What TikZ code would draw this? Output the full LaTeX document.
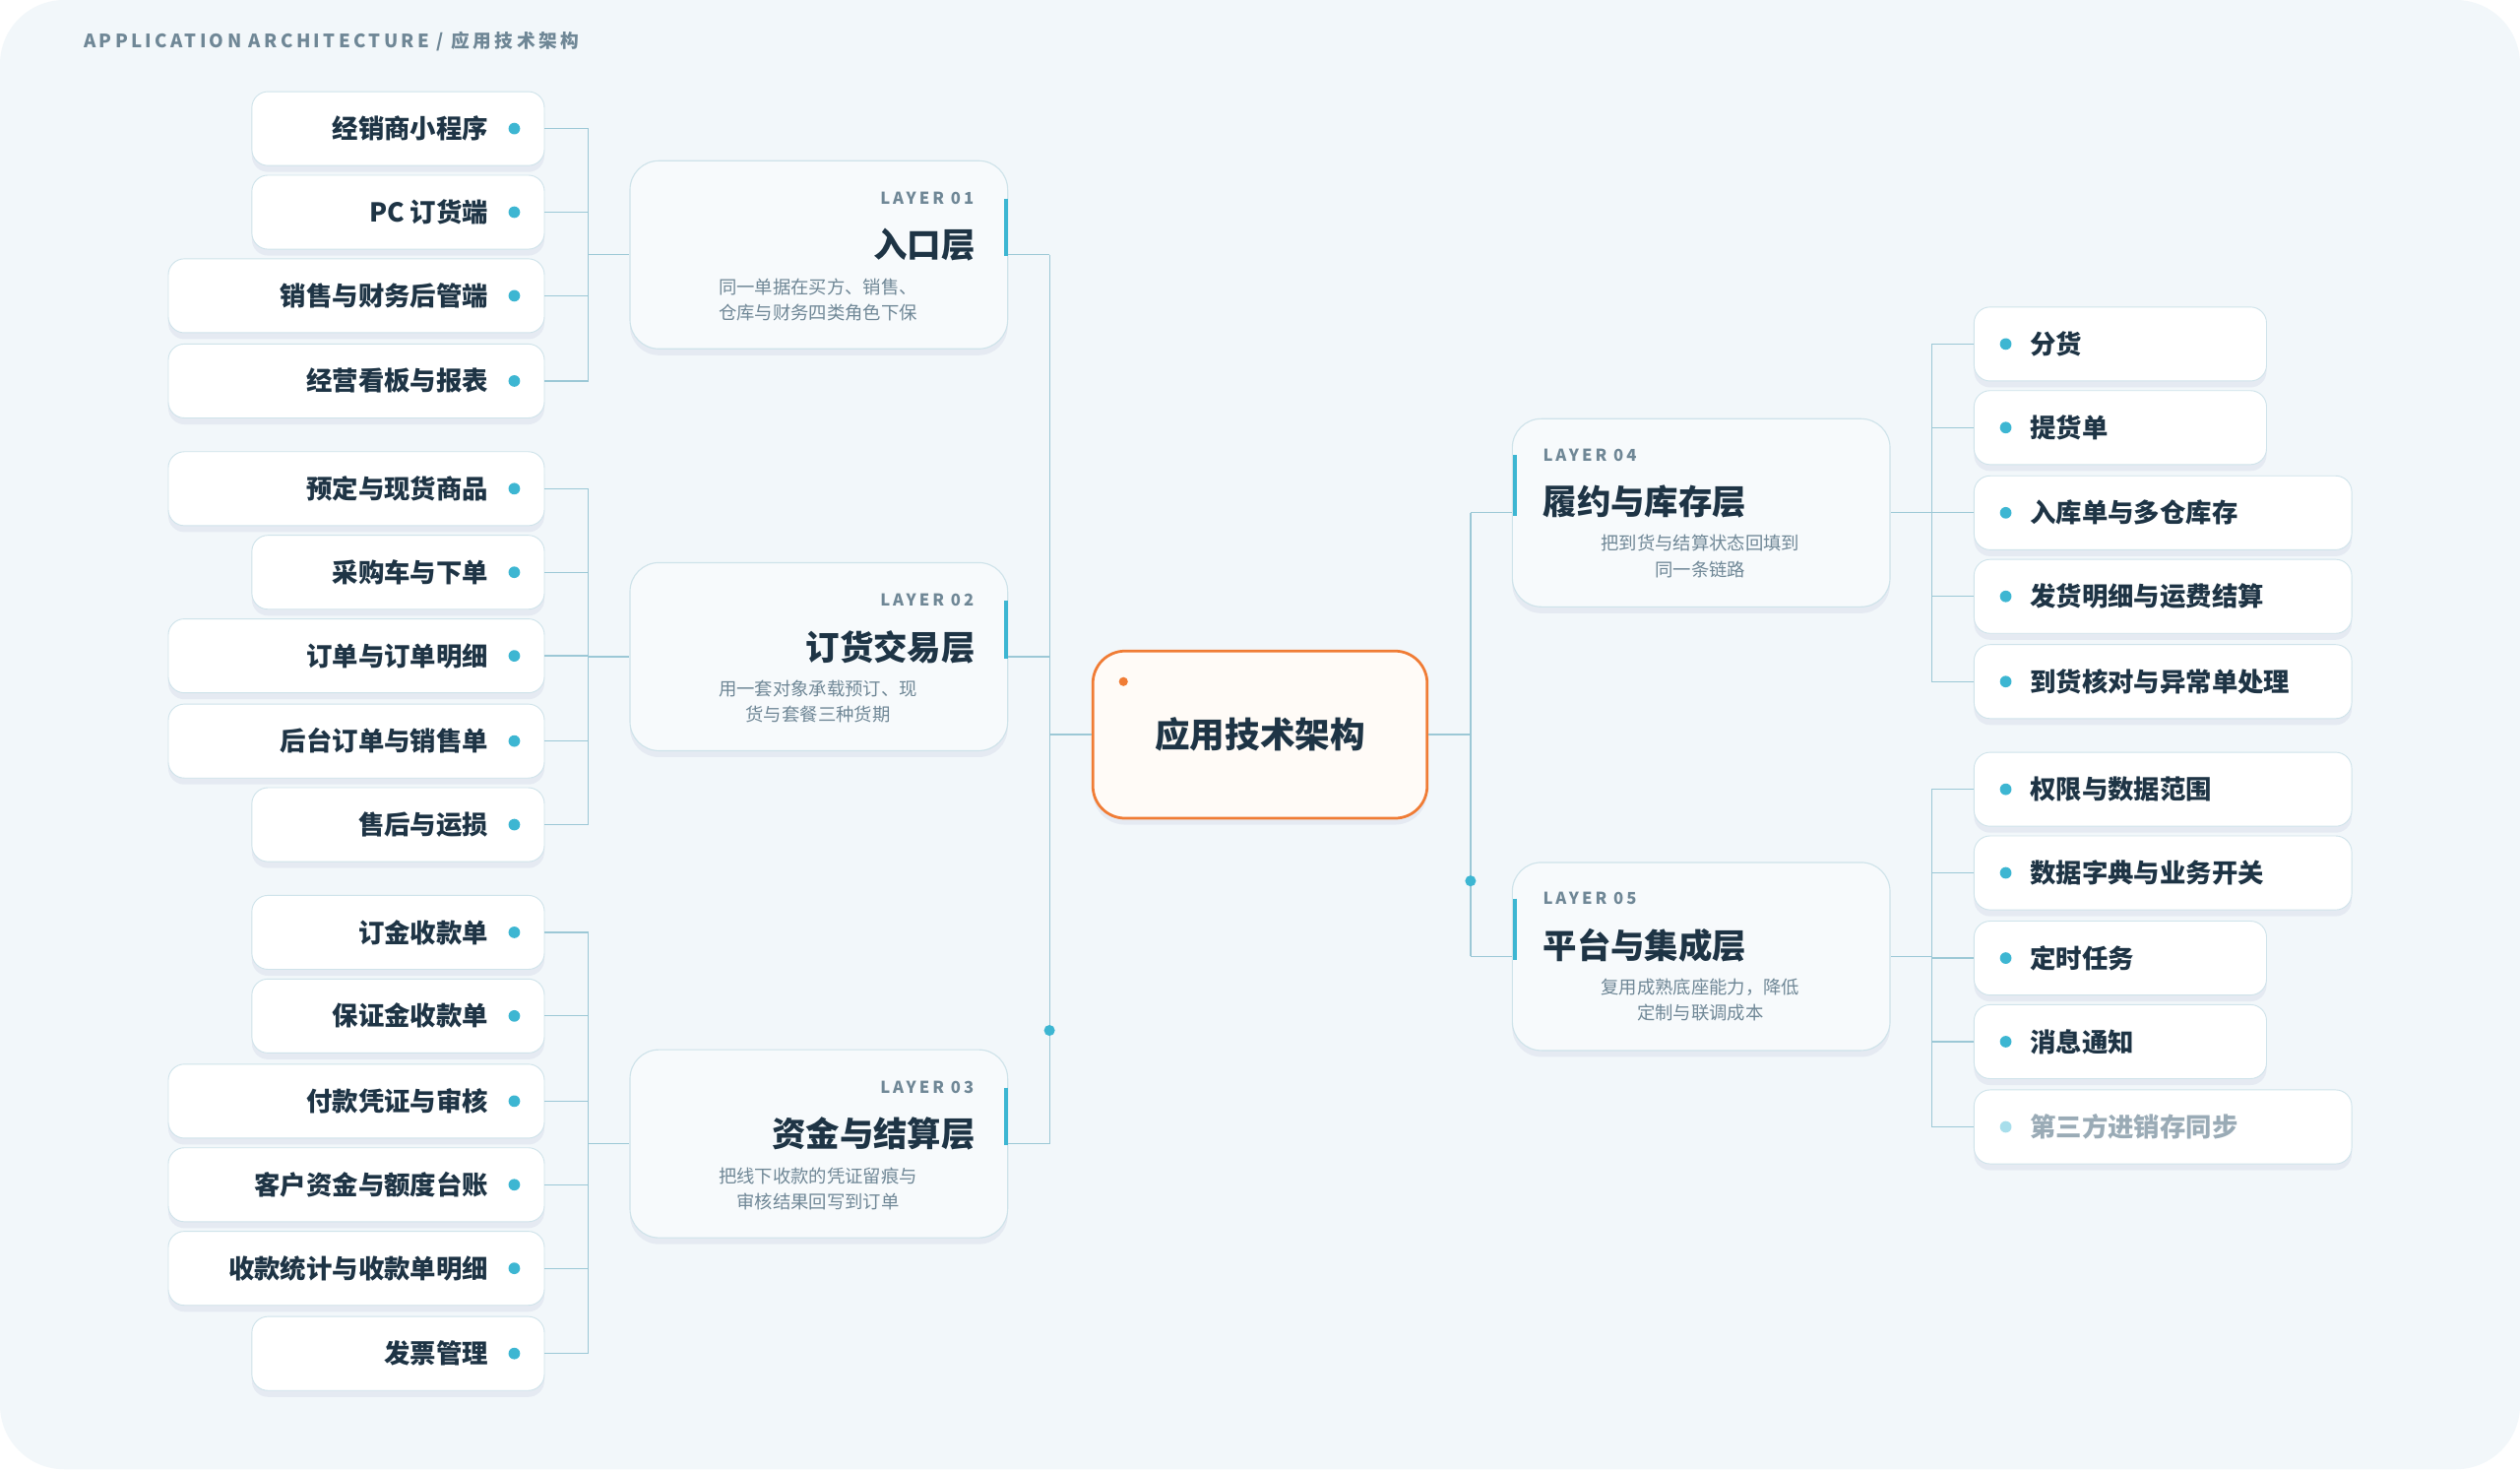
\documentclass[tikz,border=0pt]{standalone}
\usepackage{fontspec}
\setmainfont{Noto Sans CJK SC}
\newfontfamily\lblfont[LetterSpace=18]{Noto Sans CJK SC}
\begin{document}
\definecolor{bgc}{HTML}{F2F7FA}
\definecolor{conn}{HTML}{9CC8D6}
\definecolor{bord}{HTML}{CFE3EA}
\definecolor{dotc}{HTML}{3DB6D2}
\definecolor{ink}{HTML}{1E3445}
\definecolor{muted}{HTML}{6F8796}
\definecolor{orng}{HTML}{F07C35}
\begin{tikzpicture}[x=0.05cm,y=-0.05cm,
  shadowed/.style={preaction={fill=black!60!blue,opacity=0.05,transform canvas={yshift=-0.2cm}}},
  item/.style={draw=bord,line width=0.8pt,fill=white,rounded corners=0.5cm,minimum height=2.3cm,inner sep=0,shadowed},
  itemtext/.style={font=\fontsize{23}{26}\selectfont\bfseries,text=ink,inner sep=0},
  layer/.style={draw=bord,line width=1pt,fill=bgc!60!white,rounded corners=0.9cm,minimum width=11.75cm,minimum height=5.85cm,inner sep=0,shadowed},
  lab/.style={font=\lblfont\fontsize{14.5}{16}\selectfont\bfseries,text=muted,inner sep=0},
  ltitle/.style={font=\fontsize{30}{34}\selectfont\bfseries,text=ink,inner sep=0},
  desc/.style={font=\fontsize{16}{23}\selectfont,text=muted,align=center,inner sep=0},
  cn/.style={draw=conn,line width=1.1pt},
  acc/.style={draw=dotc,line width=3pt},
]
\fill[white] (0,0) rectangle (1568,914);
\fill[bgc,rounded corners=2cm] (0,0) rectangle (1568,914);
\node[font=\lblfont\fontsize{16.3}{18}\selectfont\bfseries,text=muted,anchor=west,inner sep=0] (ttl) at (52,26) {APPLICATION ARCHITECTURE / 应用技术架构};

% left items
\foreach \y/\w/\t [count=\i] in {80/182/经销商小程序,132/182/PC 订货端,184/234/销售与财务后管端,237/234/经营看板与报表,
  304/234/预定与现货商品,356/182/采购车与下单,408/234/订单与订单明细,461/234/后台订单与销售单,513/182/售后与运损,
  580/182/订金收款单,632/182/保证金收款单,685/234/付款凭证与审核,737/234/客户资金与额度台账,789/234/收款统计与收款单明细,842/182/发票管理}{
  \node[item,minimum width=\w*0.05cm,anchor=east] (L\i) at (339,\y) {};
  \node[itemtext,anchor=east] (LT\i) at (304,\y) {\t};
  \fill[dotc] (320,\y) circle (0.18cm);
  \draw[cn] (L\i.east) -- (366,\y);
}
\draw[cn] (366,80) -- (366,237);
\draw[cn] (366,304) -- (366,513);
\draw[cn] (366,580) -- (366,842);

% layers left
\foreach \c/\n/\t/\da/\db in {158.5/01/入口层/同一单据在买方、销售、/仓库与财务四类角色下保,
  408.5/02/订货交易层/用一套对象承载预订、现/货与套餐三种货期,
  711.5/03/资金与结算层/把线下收款的凭证留痕与/审核结果回写到订单}{
  \node[layer] (A\n) at (509.5,\c) {};
  \node[lab,anchor=east] at (606,\c-35) {LAYER \n};
  \node[ltitle,anchor=east] at (607,\c-6) {\t};
  \node[desc] at (509,\c+28) {\da\\\db};
  \draw[acc] (626,\c-35) -- (626,\c+1);
  \draw[cn] (366,\c) -- (A\n.west);
  \draw[cn] (A\n.east) -- (653,\c);
}
\draw[cn] (653,158.5) -- (653,711.5);
\fill[dotc] (653,641) circle (0.17cm);

% center
\node[draw=orng,line width=2.4pt,fill=orange!3!white,rounded corners=1cm,minimum width=10.4cm,minimum height=5.2cm,inner sep=0,shadowed] (C) at (784,457) {};
\node[font=\fontsize{31}{34}\selectfont\bfseries,text=ink,inner sep=0] (CT) at (784,457) {应用技术架构};
\fill[orng] (699,424) circle (0.14cm);
\draw[cn] (653,457) -- (C.west);
\draw[cn] (C.east) -- (915,457);

% right layers
\foreach \c/\n/\t/\da/\db in {319/04/履约与库存层/把到货与结算状态回填到/同一条链路,
  595/05/平台与集成层/复用成熟底座能力，降低/定制与联调成本}{
  \node[layer] (A\n) at (1058.5,\c) {};
  \node[lab,anchor=west] at (960,\c-36) {LAYER \n};
  \node[ltitle,anchor=west] at (960,\c-7) {\t};
  \node[desc] at (1058,\c+27) {\da\\\db};
  \draw[acc] (942.5,\c-36) -- (942.5,\c+2);
  \draw[cn] (915,\c) -- (A\n.west);
  \draw[cn] (A\n.east) -- (1202,\c);
}
\draw[cn] (915,319) -- (915,595);
\fill[dotc] (915,548) circle (0.17cm);

% right items
\foreach \y/\w/\t/\tc/\dc [count=\i] in {214/182/分货/ink/dotc,266/182/提货单/ink/dotc,319/235/入库单与多仓库存/ink/dotc,371/235/发货明细与运费结算/ink/dotc,424/235/到货核对与异常单处理/ink/dotc,
  491/235/权限与数据范围/ink/dotc,543/235/数据字典与业务开关/ink/dotc,596/182/定时任务/ink/dotc,648/182/消息通知/ink/dotc,701/235/第三方进销存同步/muted!70!white/dotc!45!white}{
  \node[item,minimum width=\w*0.05cm,anchor=west] (R\i) at (1228,\y) {};
  \node[itemtext,anchor=west,text=\tc] (RT\i) at (1263,\y) {\t};
  \fill[\dc] (1248,\y) circle (0.18cm);
  \draw[cn] (1202,\y) -- (R\i.west);
}
\draw[cn] (1202,214) -- (1202,424);
\draw[cn] (1202,491) -- (1202,701);
\end{tikzpicture}
\end{document}
